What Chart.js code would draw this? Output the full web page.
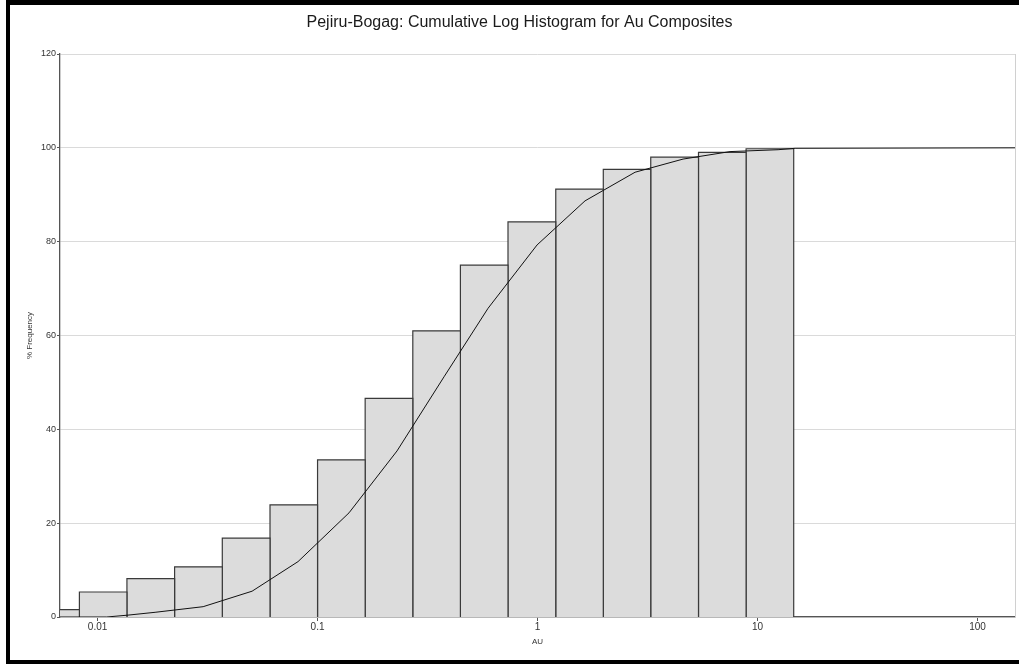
<!DOCTYPE html>
<html>
<head>
<meta charset="utf-8">
<script src="https://cdn.jsdelivr.net/npm/chart.js@4.4.0/dist/chart.umd.min.js"></script>
<style>
    html, body { margin: 0; padding: 0; background: #fff; }
    #wrap { position: absolute; left: 0; top: 0; width: 1019px; height: 664px; overflow: hidden; }
    #frame {
        position: absolute; left: 6px; top: 0; width: 1030px; height: 664px;
        border: 4px solid #000; border-top-width: 5px; box-sizing: border-box; pointer-events: none;
    }
</style>
</head>
<body>
<div id="wrap">
    <canvas id="histChart" width="1019" height="664"></canvas>
    <div id="frame"></div>
</div>
<script>
// histogram bins (AU, log-spaced) and cumulative % per bin
const binEdges = [0.00502, 0.00827, 0.0136, 0.0224, 0.0369, 0.0608, 0.1, 0.1646, 0.271, 0.446, 0.734, 1.21, 1.99, 3.27, 5.39, 8.87, 14.6];
const binCumPct = [1.56, 5.33, 8.16, 10.7, 16.8, 23.9, 33.5, 46.6, 61.0, 75.0, 84.2, 91.2, 95.4, 98.0, 99.05, 99.8];

// cumulative curve
const curveAu = [0.00675, 0.0110, 0.01376, 0.01826, 0.0302, 0.0504, 0.0815, 0.139, 0.2298, 0.3758, 0.5957, 0.995, 1.644, 2.775, 4.585, 7.499, 12.4, 14.81, 148];
const curvePct = [0, 0, 0.4, 1.0, 2.2, 5.5, 11.8, 22.2, 35.4, 51.2, 65.8, 79.3, 88.7, 94.8, 97.6, 99.2, 99.6, 99.9, 100];

const xTicks = [0.01, 0.1, 1, 10, 100];
const xMin = 0.00675;
const xMax = 148;

const chartTitle = 'Pejiru-Bogag: Cumulative Log Histogram for Au Composites';
const fontFam = '"Liberation Sans", Arial, sans-serif';

let datasets = [];

datasets.push({
    type: 'line',
    label: 'curve',
    data: curveAu.map((x, i) => ({ x: x, y: curvePct[i] })),
    borderColor: '#111',
    borderWidth: 1,
    pointRadius: 0,
    fill: false,
    tension: 0,
    order: 0
});

for (let i = 0; i < binCumPct.length; i++) {
    let x0 = binEdges[i], x1 = binEdges[i + 1], h = binCumPct[i];
    datasets.push({
        type: 'line',
        label: 'bin' + i,
        data: [{ x: x0, y: 0 }, { x: x0, y: h }, { x: x1, y: h }, { x: x1, y: 0 }],
        borderColor: '#3a3a3a',
        borderWidth: 1.2,
        backgroundColor: '#dcdcdc',
        fill: 'origin',
        pointRadius: 0,
        tension: 0,
        order: 1
    });
}

// light frame on the right side of the plot + title text (frame is offset, so centre by hand)
const decor = {
    id: 'decor',
    beforeDatasetsDraw(chart) {
        const a = chart.chartArea;
        const c = chart.ctx;
        c.save();
        c.strokeStyle = '#d0d0d0';
        c.lineWidth = 1;
        c.beginPath();
        c.moveTo(a.right + 0.5, a.top);
        c.lineTo(a.right + 0.5, a.bottom);
        c.stroke();
        c.restore();
    },
    afterDraw(chart) {
        const c = chart.ctx;
        c.save();
        c.fillStyle = '#1a1a1a';
        c.font = '16px ' + fontFam;
        c.textAlign = 'center';
        c.textBaseline = 'middle';
        c.fillText(chartTitle, 519.5, 22.5);
        c.restore();
    }
};

const ctx = document.getElementById('histChart');

var myChart = new Chart(ctx, {
    type: 'line',
    data: { datasets: datasets },
    plugins: [decor],
    options: {
        responsive: false,
        animation: false,
        devicePixelRatio: 1,
        layout: { padding: { left: 0, right: 4, top: 54, bottom: 0 } },
        plugins: {
            legend: { display: false },
            tooltip: { enabled: false },
            title: { display: false }
        },
        scales: {
            x: {
                type: 'logarithmic',
                min: xMin,
                max: xMax,
                afterFit: function (scale) { scale.height = 47; },
                afterBuildTicks: function (scale) {
                    scale.ticks = xTicks.map(v => ({ value: v }));
                },
                ticks: {
                    autoSkip: false,
                    maxRotation: 0,
                    padding: 0,
                    color: '#333',
                    font: { family: fontFam, size: 10 },
                    callback: function (v) { return String(v); }
                },
                grid: {
                    drawOnChartArea: false,
                    drawTicks: true,
                    tickLength: 4,
                    tickColor: '#555'
                },
                border: { color: '#555', width: 1.3 },
                title: {
                    display: true,
                    text: 'AU',
                    color: '#333',
                    font: { family: fontFam, size: 8 },
                    padding: { top: 0, bottom: 17 }
                }
            },
            y: {
                min: 0,
                max: 120,
                afterFit: function (scale) { scale.width = 60; },
                ticks: {
                    stepSize: 20,
                    padding: 1,
                    color: '#333',
                    font: { family: fontFam, size: 9 }
                },
                grid: {
                    color: '#dadada',
                    tickLength: 3,
                    tickColor: '#555'
                },
                border: { color: '#555', width: 1.3 },
                title: {
                    display: true,
                    text: '% Frequency',
                    color: '#333',
                    font: { family: fontFam, size: 8 },
                    padding: { top: 25, bottom: 0 }
                }
            }
        }
    }
});
</script>
</body>
</html>
